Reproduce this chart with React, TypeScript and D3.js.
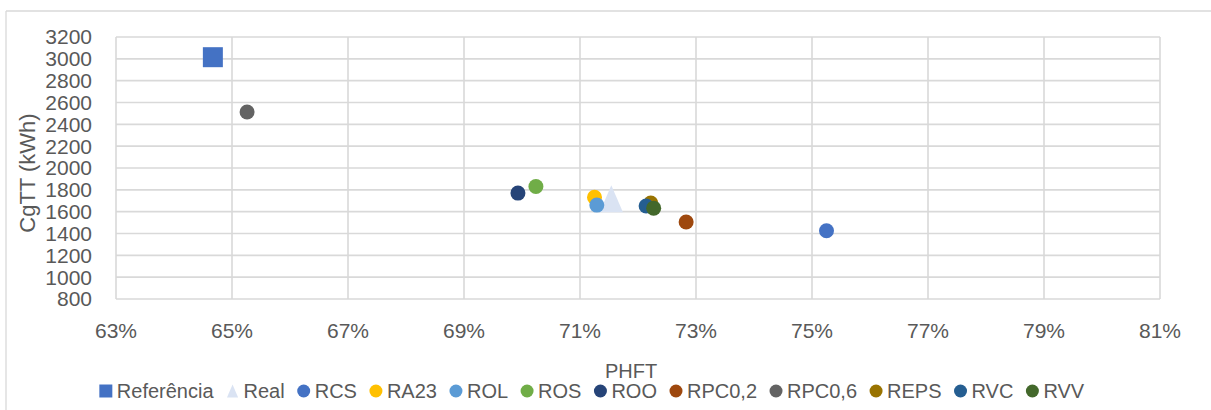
import React, { useEffect, useRef } from "react";
import * as d3 from "d3";

const seriesNames = ["Referência", "Real", "RCS", "RA23", "ROL", "ROS", "ROO", "RPC0,2", "RPC0,6", "REPS", "RVC", "RVV"];
const phftValues = [0.6467, 0.7154, 0.7525, 0.7125, 0.7129, 0.7024, 0.6993, 0.7283, 0.6526, 0.7222, 0.7214, 0.7227];
const cgttValues = [3015, 1718, 1425, 1731, 1660, 1830, 1770, 1505, 2513, 1680, 1652, 1632];
const seriesColors = ["#4472C4", "#DAE3F3", "#4472C4", "#FFC000", "#5B9BD5", "#70AD47", "#264478", "#9E480E", "#636363", "#997300", "#255E91", "#43682B"];
const seriesShapes = ["square", "triangle", "circle", "circle", "circle", "circle", "circle", "circle", "circle", "circle", "circle", "circle"];
const xTicks = [0.63, 0.65, 0.67, 0.69, 0.71, 0.73, 0.75, 0.77, 0.79, 0.81];
const yTicks = [800, 1000, 1200, 1400, 1600, 1800, 2000, 2200, 2400, 2600, 2800, 3000, 3200];
const xTitle = "PHFT";
const yTitle = "CgTT (kWh)";

const W = 1211;
const H = 410;
const FONT = "'Liberation Sans', Arial, sans-serif";
const TEXT = "#595959";
const GRID = "#D9D9D9";

function markerPath(shape: string, size: number): string {
  const h = size / 2;
  if (shape === "square") return `M${-h},${-h}H${h}V${h}H${-h}Z`;
  if (shape === "triangle") {
    const tw = size * 0.86;
    const th = size;
    return `M0,${-th / 2}L${tw / 2},${th / 2}L${-tw / 2},${th / 2}Z`;
  }
  return d3.symbol(d3.symbolCircle, Math.PI * h * h)() as string;
}

export default function App() {
  const ref = useRef<SVGSVGElement>(null);

  useEffect(() => {
    const svg = d3.select(ref.current);
    svg.selectAll("*").remove();

    const left = 116, right = 1160, top = 37, bottom = 299;
    const x = d3.scaleLinear().domain([0.63, 0.81]).range([left, right]);
    const y = d3.scaleLinear().domain([800, 3200]).range([bottom, top]);

    // outer chart border (top and left visible)
    svg.append("line").attr("x1", 6).attr("x2", W).attr("y1", 11).attr("y2", 11).attr("stroke", GRID).attr("stroke-width", 1.3);
    svg.append("line").attr("x1", 6).attr("x2", 6).attr("y1", 11).attr("y2", H).attr("stroke", GRID).attr("stroke-width", 1.3);

    // grid
    const g = svg.append("g");
    g.selectAll("line.h").data(yTicks).join("line")
      .attr("x1", left).attr("x2", right)
      .attr("y1", (d) => y(d)).attr("y2", (d) => y(d))
      .attr("stroke", GRID).attr("stroke-width", 1.6);
    g.selectAll("line.v").data(xTicks).join("line")
      .attr("y1", top).attr("y2", bottom)
      .attr("x1", (d) => x(d)).attr("x2", (d) => x(d))
      .attr("stroke", GRID).attr("stroke-width", 1.6);

    // tick labels
    const pct = d3.format(".0%");
    svg.append("g").selectAll("text").data(yTicks).join("text")
      .attr("x", 92).attr("y", (d) => y(d)).attr("dy", "0.35em")
      .attr("text-anchor", "end").attr("font-family", FONT).attr("font-size", 21).attr("fill", TEXT)
      .text((d) => String(d));
    svg.append("g").selectAll("text").data(xTicks).join("text")
      .attr("x", (d) => x(d)).attr("y", 331).attr("dy", "0.35em")
      .attr("text-anchor", "middle").attr("font-family", FONT).attr("font-size", 21).attr("fill", TEXT)
      .text((d) => pct(d));

    // axis titles
    svg.append("text").attr("transform", `translate(35,${(top + bottom) / 2 + 5}) rotate(-90)`)
      .attr("text-anchor", "middle").attr("font-family", FONT).attr("font-size", 22).attr("fill", TEXT)
      .text(yTitle);
    svg.append("text").attr("x", 631).attr("y", 378)
      .attr("text-anchor", "middle").attr("font-family", FONT).attr("font-size", 20).attr("fill", TEXT)
      .text(xTitle);

    // points
    const pts = seriesNames.map((n, i) => ({ n, x: phftValues[i], y: cgttValues[i], c: seriesColors[i], s: seriesShapes[i] }));
    svg.append("g").selectAll("path").data(pts).join("path")
      .attr("transform", (d) => `translate(${x(d.x)},${y(d.y)})`)
      .attr("d", (d) => markerPath(d.s, d.s === "square" ? 20 : d.s === "triangle" ? 27 : 15))
      .attr("fill", (d) => d.c);

    // legend
    const lg = svg.append("g");
    const items = pts.map((d) => {
      const gi = lg.append("g");
      gi.append("path").attr("d", markerPath(d.s, 13)).attr("fill", d.c);
      const t = gi.append("text").attr("x", 11).attr("dy", "0.35em")
        .attr("font-family", FONT).attr("font-size", 20).attr("fill", TEXT).text(d.n);
      const w = (t.node() as SVGTextElement).getComputedTextLength();
      return { gi, w: 11 + w };
    });
    const gap = 19;
    const total = d3.sum(items, (d) => d.w) + gap * (items.length - 1) + 6;
    let cx = 592 - total / 2 + 6;
    items.forEach((it) => {
      it.gi.attr("transform", `translate(${cx},391)`);
      cx += it.w + gap;
    });
  }, []);

  return (
    <svg ref={ref} width={W} height={H} style={{ position: "absolute", left: 0, top: 0, background: "#fff" }} />
  );
}
